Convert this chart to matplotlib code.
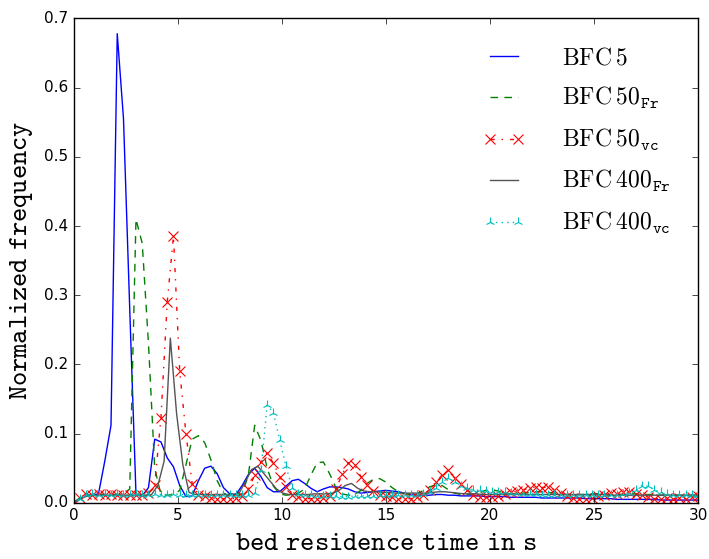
import numpy as np
import matplotlib
matplotlib.use("Agg")
import matplotlib.pyplot as plt

plt.style.use('classic')
plt.rcParams['mathtext.fontset'] = 'cm'
plt.rcParams['figure.facecolor'] = 'white'
plt.rcParams['savefig.facecolor'] = 'white'

# time grid (s)
t = np.linspace(0, 30, 101)
t_gray = np.r_[0.0, np.arange(0.15, 30.0, 0.3), 30.0]

bfc5 = [0.0, 0.006, 0.010, 0.011, 0.013, 0.060, 0.112, 0.678, 0.555, 0.280,
        0.012, 0.010, 0.022, 0.092, 0.088, 0.065, 0.052, 0.025, 0.009, 0.010,
        0.032, 0.050, 0.053, 0.042, 0.022, 0.013, 0.012, 0.025, 0.041, 0.050,
        0.038, 0.022, 0.016, 0.016, 0.024, 0.032, 0.034, 0.028, 0.021, 0.016,
        0.020, 0.023, 0.023, 0.022, 0.020, 0.016, 0.014, 0.015, 0.016, 0.017,
        0.018, 0.017, 0.016, 0.014, 0.012, 0.011, 0.011, 0.011, 0.012, 0.012,
        0.011, 0.011, 0.010, 0.010, 0.010, 0.010, 0.009, 0.009, 0.009, 0.009,
        0.008, 0.008, 0.008, 0.008, 0.008, 0.007, 0.007, 0.007, 0.007, 0.007,
        0.007, 0.007, 0.006, 0.006, 0.006, 0.006, 0.006, 0.005, 0.005, 0.005,
        0.005, 0.005, 0.005, 0.005, 0.004, 0.004, 0.004, 0.004, 0.004, 0.004,
        0.004]

bfc50_fr = [0.0, 0.007, 0.011, 0.012, 0.012, 0.012, 0.012, 0.012, 0.013, 0.020,
            0.410, 0.375, 0.230, 0.050, 0.012, 0.011, 0.012, 0.018, 0.055, 0.092,
            0.097, 0.087, 0.062, 0.032, 0.014, 0.010, 0.010, 0.013, 0.040, 0.112,
            0.090, 0.050, 0.024, 0.013, 0.011, 0.012, 0.014, 0.020, 0.040, 0.058,
            0.059, 0.042, 0.022, 0.013, 0.011, 0.012, 0.018, 0.028, 0.034, 0.035,
            0.030, 0.022, 0.016, 0.013, 0.012, 0.013, 0.018, 0.023, 0.026, 0.025,
            0.019, 0.014, 0.012, 0.012, 0.013, 0.015, 0.018, 0.019, 0.017, 0.014,
            0.013, 0.013, 0.014, 0.015, 0.016, 0.016, 0.015, 0.014, 0.013, 0.012,
            0.012, 0.012, 0.012, 0.013, 0.013, 0.013, 0.012, 0.012, 0.012, 0.013,
            0.013, 0.012, 0.012, 0.012, 0.011, 0.011, 0.011, 0.011, 0.011, 0.011,
            0.011]

bfc50_vc = [0.0, 0.007, 0.013, 0.012, 0.013, 0.012, 0.013, 0.012, 0.012, 0.011,
            0.012, 0.012, 0.014, 0.026, 0.123, 0.290, 0.385, 0.190, 0.100, 0.027,
            0.012, 0.010, 0.007, 0.006, 0.006, 0.005, 0.007, 0.010, 0.020, 0.040,
            0.059, 0.072, 0.057, 0.038, 0.023, 0.012, 0.008, 0.006, 0.006, 0.006,
            0.007, 0.010, 0.020, 0.041, 0.058, 0.055, 0.038, 0.026, 0.017, 0.012,
            0.010, 0.008, 0.006, 0.006, 0.006, 0.008, 0.012, 0.019, 0.030, 0.040,
            0.047, 0.036, 0.027, 0.018, 0.012, 0.009, 0.008, 0.008, 0.010, 0.013,
            0.015, 0.017, 0.019, 0.021, 0.023, 0.022, 0.023, 0.019, 0.014, 0.010,
            0.007, 0.006, 0.006, 0.007, 0.010, 0.012, 0.014, 0.013, 0.016, 0.015,
            0.013, 0.011, 0.008, 0.006, 0.006, 0.007, 0.005, 0.007, 0.006, 0.008,
            0.010]

bfc400_fr = [0.0, 0.003, 0.008, 0.010, 0.011, 0.011, 0.011, 0.011, 0.011, 0.011,
             0.011, 0.011, 0.011, 0.012, 0.025, 0.060, 0.238, 0.129, 0.055, 0.015,
             0.012, 0.012, 0.012, 0.012, 0.012, 0.012, 0.012, 0.014, 0.030, 0.048,
             0.053, 0.042, 0.031, 0.020, 0.014, 0.012, 0.012, 0.012, 0.012, 0.013,
             0.013, 0.013, 0.014, 0.018, 0.025, 0.028, 0.021, 0.017, 0.016, 0.016,
             0.015, 0.015, 0.014, 0.014, 0.014, 0.014, 0.014, 0.014, 0.015, 0.016,
             0.016, 0.015, 0.014, 0.013, 0.013, 0.013, 0.012, 0.012, 0.012, 0.012,
             0.012, 0.012, 0.012, 0.012, 0.012, 0.012, 0.012, 0.012, 0.012, 0.012,
             0.012, 0.012, 0.012, 0.012, 0.012, 0.012, 0.011, 0.011, 0.011, 0.011,
             0.011, 0.011, 0.011, 0.011, 0.011, 0.011, 0.011, 0.011, 0.011, 0.011,
             0.011, 0.011]

bfc400_vc = [0.0, 0.006, 0.011, 0.013, 0.012, 0.013, 0.012, 0.013, 0.012, 0.012,
             0.013, 0.012, 0.012, 0.013, 0.012, 0.012, 0.013, 0.012, 0.012, 0.011,
             0.012, 0.012, 0.011, 0.012, 0.012, 0.011, 0.012, 0.012, 0.012, 0.014,
             0.047, 0.141, 0.130, 0.091, 0.053, 0.022, 0.013, 0.011, 0.011, 0.010,
             0.010, 0.010, 0.010, 0.009, 0.009, 0.010, 0.010, 0.010, 0.010, 0.011,
             0.011, 0.011, 0.011, 0.011, 0.011, 0.012, 0.013, 0.016, 0.022, 0.030,
             0.036, 0.030, 0.025, 0.021, 0.019, 0.018, 0.017, 0.016, 0.015, 0.015,
             0.014, 0.014, 0.013, 0.013, 0.013, 0.012, 0.012, 0.012, 0.012, 0.012,
             0.011, 0.011, 0.011, 0.011, 0.011, 0.011, 0.012, 0.012, 0.013, 0.014,
             0.018, 0.025, 0.024, 0.019, 0.015, 0.013, 0.012, 0.012, 0.011, 0.011,
             0.011]

labels = [r'$\mathrm{BFC\:5}$',
          r'$\mathrm{BFC\:50}_{\mathtt{Fr}}$',
          r'$\mathrm{BFC\:50}_{\mathtt{vc}}$',
          r'$\mathrm{BFC\:400}_{\mathtt{Fr}}$',
          r'$\mathrm{BFC\:400}_{\mathtt{vc}}$']

fig = plt.figure(figsize=(7.09, 5.59), dpi=100)
ax = fig.add_axes([0.1037, 0.1005, 0.881, 0.8665])

ax.plot(t, bfc5, color='b', linestyle='-', lw=1.0, label=labels[0])
ax.plot(t, bfc50_fr, color='g', linestyle='--', dashes=(5.5, 4.5), lw=1.0,
        label=labels[1])
ax.plot(t, bfc50_vc, color='r', linestyle='-.', marker='x', ms=7, mew=0.8,
        lw=1.0, label=labels[2])
ax.plot(t_gray, bfc400_fr, color='0.33', linestyle='-', lw=1.0, label=labels[3])
ax.plot(t, bfc400_vc, color='c', linestyle=':', marker='2', ms=7, mew=0.8,
        lw=1.0, label=labels[4])

ax.set_xlim(0, 30)
ax.set_ylim(0, 0.7)
ax.set_xticks([0, 5, 10, 15, 20, 25, 30])
ax.set_yticks([0.0, 0.1, 0.2, 0.3, 0.4, 0.5, 0.6, 0.7])
ax.tick_params(labelsize=11)

ax.set_xlabel(r'$\mathtt{bed\ residence\ time\ in\ s}$', fontsize=19.5, labelpad=5)
ax.set_ylabel(r'$\mathtt{Normalized\ frequency}$', fontsize=19.5, labelpad=6)

leg = ax.legend(loc='upper right', frameon=False, fontsize=17, numpoints=2,
                labelspacing=0.66, handlelength=1.8, handletextpad=1.55,
                borderaxespad=0.75)

fig.savefig('out.png', dpi=100)
